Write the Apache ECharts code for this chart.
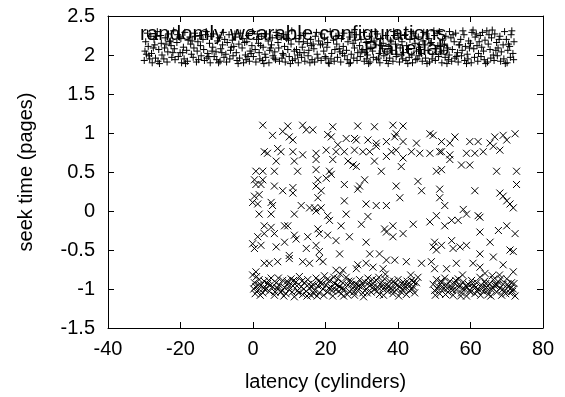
<!DOCTYPE html>
<html><head><meta charset="utf-8">
<script src="https://cdn.jsdelivr.net/npm/echarts@6/dist/echarts.min.js"></script>
<style>html,body{margin:0;padding:0;background:#fff}#c{width:565px;height:397px}</style>
</head><body><div id="c"></div>
<script>
var xTitle = 'latency (cylinders)';
var yTitle = 'seek time (pages)';
var seriesNames = ['randomly wearable configurations', 'Planetlab'];
var xTicks = [-40, -20, 0, 20, 40, 60, 80];
var yTicks = [-1.5, -1, -0.5, 0, 0.5, 1, 1.5, 2, 2.5];

var wearable = [
[-30.0,1.93],[-29.6,2.17],[-29.8,2.05],[-29.1,2.28],[-28.7,1.99],[-28.9,2.11],[-28.2,2.24],[-27.8,1.90],[-28.0,2.02],
[-27.3,2.20],[-26.9,1.96],[-27.1,2.13],[-26.4,2.30],[-26.0,2.07],[-26.2,1.92],[-25.5,2.25],[-25.1,2.00],[-25.3,2.15],
[-24.6,1.95],[-24.2,2.22],[-24.4,2.09],[-23.7,1.91],[-23.3,2.27],[-23.5,2.04],[-22.8,2.18],[-22.4,1.97],[-22.6,2.12],
[-21.9,2.31],[-21.5,1.94],[-21.7,2.08],[-21.0,2.16],[-20.6,1.98],[-20.8,2.26],[-20.1,2.03],[-19.7,1.90],[-19.9,2.21],
[-19.2,2.10],[-18.8,2.29],[-19.0,1.95],[-18.3,2.06],[-17.9,2.19],[-18.1,1.92],[-17.4,2.23],[-17.0,2.01],[-17.2,2.14],
[-16.5,1.97],[-16.1,2.28],[-16.3,2.09],[-15.6,1.91],[-15.2,2.17],[-15.4,2.05],[-14.7,2.25],[-14.3,1.99],[-14.5,2.12],
[-13.8,2.20],[-13.4,1.93],[-13.6,2.07],[-12.9,2.30],[-12.5,2.02],[-12.7,1.96],[-12.0,2.15],[-11.6,2.24],[-11.8,1.90],
[-11.1,2.10],[-10.7,1.98],[-10.9,2.27],[-10.2,2.04],[-9.8,2.18],[-10.0,1.94],[-9.3,2.22],[-8.9,2.08],[-9.1,1.92],
[-8.4,2.13],[-8.0,1.97],[-8.2,2.29],[-7.5,2.01],[-7.1,2.16],[-7.3,1.91],[-6.6,2.26],[-6.2,2.06],[-6.4,1.95],
[-5.7,2.19],[-5.3,2.11],[-5.5,1.99],[-4.8,2.23],[-4.4,1.93],[-4.6,2.03],[-3.9,2.14],[-3.5,2.28],[-3.7,1.96],
[-3.0,2.09],[-2.6,1.90],[-2.8,2.21],[-2.1,2.00],[-1.7,2.17],[-1.9,1.94],[-1.2,2.25],[-0.8,2.05],[-1.0,1.92],
[-0.3,2.12],[0.1,1.98],[-0.1,2.30],[0.6,2.07],[1.0,2.20],[0.8,1.91],[1.5,2.15],[1.9,1.95],[1.7,2.03],
[2.4,2.24],[2.8,2.10],[2.6,1.93],[3.3,2.01],[3.7,2.27],[3.5,1.97],[4.2,2.18],[4.6,2.06],[4.4,1.90],
[5.1,2.13],[5.5,1.99],[5.3,2.22],[6.0,2.04],[6.4,2.29],[6.2,1.94],[6.9,2.16],[7.3,1.92],[7.1,2.09],
[7.8,2.23],[8.2,2.02],[8.0,1.96],[8.7,2.11],[9.1,2.26],[8.9,1.91],[9.6,2.07],[10.0,1.98],[9.8,2.19],
[10.5,2.14],[10.9,1.93],[10.7,2.31],[11.4,2.05],[11.8,2.21],[11.6,1.95],[12.3,2.00],[12.7,2.17],[12.5,1.90],
[13.2,2.25],[13.6,2.10],[13.4,1.97],[14.1,2.03],[14.5,2.28],[14.3,1.92],[15.0,2.15],[15.4,2.06],[15.2,1.99],
[15.9,2.20],[16.3,1.94],[16.1,2.12],[16.8,2.08],[17.2,2.24],[17.0,1.91],[17.7,2.01],[18.1,2.18],[17.9,1.96],
[18.6,2.13],[19.0,2.27],[18.8,1.93],[19.5,2.05],[19.9,1.98],[19.7,2.22],[20.4,2.10],[20.8,1.90],[20.6,2.16],
[21.3,2.30],[21.7,2.02],[21.5,1.95],[22.2,2.19],[22.6,2.07],[22.4,1.92],[23.1,2.14],[23.5,2.25],[23.3,1.97],
[24.0,2.04],[24.4,2.21],[24.2,1.91],[24.9,2.11],[25.3,1.99],[25.1,2.28],[25.8,2.06],[26.2,2.17],[26.0,1.94],
[26.7,2.23],[27.1,2.01],[26.9,1.90],[27.6,2.15],[28.0,2.09],[27.8,1.96],[28.5,2.26],[28.9,2.03],[28.7,1.93],
[29.4,2.12],[29.8,2.20],[29.6,1.98],[30.3,2.07],[30.7,1.92],[30.5,2.29],[31.2,2.16],[31.6,2.00],[31.4,1.95],
[32.1,2.24],[32.5,2.10],[32.3,1.91],[33.0,2.05],[33.4,2.18],[33.2,1.97],[33.9,2.13],[34.3,2.27],[34.1,1.94],
[34.8,2.02],[35.2,2.21],[35.0,1.90],[35.7,2.08],[36.1,1.99],[35.9,2.15],[36.6,2.25],[37.0,2.04],[36.8,1.93],
[37.5,2.11],[37.9,2.19],[37.7,1.96],[38.4,2.06],[38.8,2.30],[38.6,1.92],[39.3,2.14],[39.7,2.01],[39.5,1.98],
[40.2,2.22],[40.6,2.09],[40.4,1.91],[41.1,2.17],[41.5,2.03],[41.3,1.95],[42.0,2.26],[42.4,2.12],[42.2,1.93],
[42.9,2.07],[43.3,2.20],[43.1,1.97],[43.8,2.00],[44.2,2.28],[44.0,1.90],[44.7,2.15],[45.1,2.05],[44.9,1.94],
[45.6,2.23],[46.0,2.10],[45.8,1.99],[46.5,2.02],[46.9,2.18],[46.7,1.92],[47.4,2.13],[47.8,2.27],[47.6,1.96],
[48.3,2.06],[48.7,1.91],[48.5,2.21],[49.2,2.16],[49.6,2.01],[49.4,1.95],[50.1,2.25],[50.5,2.08],[50.3,1.93],
[51.0,2.12],[51.4,2.30],[51.2,1.98],[51.9,2.04],[52.3,2.19],[52.1,1.90],[52.8,2.14],[53.2,2.24],[53.0,1.97],
[53.7,2.09],[54.1,2.00],[53.9,1.94],[54.6,2.22],[55.0,2.07],[54.8,1.92],[55.5,2.17],[55.9,2.28],[55.7,1.96],
[56.4,2.03],[56.8,2.13],[56.6,1.91],[57.3,2.20],[57.7,2.06],[57.5,1.99],[58.2,2.26],[58.6,2.11],[58.4,1.93],
[59.1,2.01],[59.5,2.18],[59.3,1.95],[60.0,2.15],[60.4,2.29],[60.2,1.90],[60.9,2.08],[61.3,2.23],[61.1,1.97],
[61.8,2.12],[62.2,2.02],[62.0,1.92],[62.7,2.25],[63.1,2.10],[62.9,1.98],[63.6,2.05],[64.0,2.19],[63.8,1.94],
[64.5,2.31],[64.9,2.14],[64.7,1.91],[65.4,2.07],[65.8,2.22],[65.6,1.96],[66.3,2.00],[66.7,2.27],[66.5,1.93],
[67.2,2.16],[67.6,2.09],[67.4,1.99],[68.1,2.24],[68.5,2.04],[68.3,1.92],[69.0,2.13],[69.4,2.30],[69.2,1.95],
[69.9,2.20],[70.3,2.06],[70.1,1.90],[70.8,2.11],[71.2,2.26],[71.0,1.97],[71.7,2.02],[72.0,2.17],[71.9,1.94],
[-29.4,2.01],[-27.5,2.09],[-25.8,1.89],[-24.0,2.14],[-22.1,2.03],[-20.3,2.23],[-18.6,1.89],[-16.8,2.18],[-15.0,1.94],
[-13.1,2.26],[-11.3,2.05],[-9.5,1.90],[-7.8,2.20],[-6.0,2.10],[-4.1,1.89],[-2.3,2.16],[-0.5,2.02],[1.2,2.27],
[3.0,1.89],[4.9,2.09],[6.7,2.25],[8.4,2.00],[10.3,1.89],[12.0,2.07],[13.9,2.17],[15.7,1.90],[17.5,2.29],
[19.2,2.14],[21.0,1.89],[22.9,2.24],[24.7,2.02],[26.5,1.89],[28.2,2.19],[30.0,2.05],[31.9,1.89],[33.7,2.30],
[35.4,2.12],[37.3,1.89],[39.0,2.25],[40.9,2.00],[42.7,1.89],[44.5,2.21],[46.2,2.07],[48.0,1.89],[49.9,2.31],
[51.7,2.11],[53.5,1.89],[55.2,2.26],[57.0,2.13],[58.9,1.89],[60.7,2.32],[62.4,2.17],[64.2,1.89],[66.0,2.32],
[67.9,2.20],[69.6,1.89],[71.4,2.31],[-28.5,1.95],[-26.6,2.24],[-23.0,2.17],[-19.4,2.03],[-15.9,2.24],[-12.2,1.98],
[-8.6,2.03],[-5.0,2.27],[-1.4,1.98],[2.1,2.12],[5.8,1.96],[9.3,2.21],[12.9,2.03],[16.6,2.14],[20.1,1.96],
[23.8,2.08],[27.3,2.29],[30.9,2.03],[34.6,1.96],[38.1,2.17],[41.8,2.25],[45.3,1.95],[48.9,2.15],[52.6,2.06],
[56.1,1.98],[59.7,2.09],[63.3,2.29],[67.0,2.06],[70.5,2.14],[65.1,2.26],[61.6,2.27],[57.9,2.31],[54.2,2.30],
[50.8,2.28],[47.1,2.29],[43.6,2.30],[39.9,2.28]
];

var planetlab = [
[2.7,1.10],[9.6,1.09],[13.7,1.10],[22.0,1.08],[28.9,1.09],[33.5,1.08],[38.6,1.10],[41.4,1.09],
[5.4,0.97],[8.2,1.02],[10.0,0.95],[11.0,0.91],[14.7,1.04],[16.5,1.04],[20.6,0.98],[21.6,0.95],[25.7,0.93],[28.0,0.93],[28.5,0.91],[31.7,0.91],[34.0,0.87],[36.8,0.89],[39.1,0.95],[39.5,0.99],[41.4,0.89],[45.1,0.87],[48.8,0.99],[49.7,0.97],[52.0,0.89],[54.3,0.87],[55.7,0.95],[59.8,0.89],[62.1,0.89],[65.4,0.87],[66.7,0.95],[69.0,0.97],[70.0,0.91],[72.3,0.99],
[3.1,0.76],[4.0,0.74],[6.8,0.80],[7.7,0.76],[11.0,0.76],[13.7,0.72],[17.4,0.74],[20.2,0.78],[22.9,0.76],[23.4,0.85],[25.2,0.76],[28.0,0.78],[30.3,0.76],[32.2,0.76],[34.0,0.83],[36.8,0.70],[38.2,0.76],[39.5,0.78],[41.4,0.68],[43.7,0.76],[46.0,0.74],[48.8,0.74],[51.5,0.76],[52.0,0.76],[54.3,0.72],[58.9,0.74],[61.2,0.74],[63.5,0.76],[66.3,0.83],[68.1,0.78],
[6.4,0.64],[11.4,0.64],[17.4,0.66],[22.0,0.66],[26.2,0.64],[27.6,0.59],[28.5,0.57],[33.5,0.64],[40.9,0.57],[54.3,0.66],[57.5,0.59],[59.8,0.59],
[0.8,0.51],[2.7,0.51],[5.9,0.51],[12.3,0.51],[17.4,0.53],[21.1,0.51],[35.4,0.51],[50.6,0.51],[52.0,0.53],[67.2,0.51],[72.7,0.51],[0.4,0.40],[2.7,0.40],[17.9,0.40],[20.2,0.42],[21.6,0.47],[30.8,0.40],[45.5,0.38],
[0.8,0.34],[2.2,0.34],[5.9,0.32],[8.2,0.26],[11.0,0.30],[11.0,0.23],[17.4,0.32],[18.8,0.26],[25.2,0.34],[29.4,0.32],[28.9,0.28],[39.5,0.32],[46.5,0.26],[51.5,0.28],[61.2,0.26],[68.1,0.23],[69.0,0.19],[72.7,0.34],[0.4,0.19],[1.7,0.21],[17.9,0.17],[40.5,0.17],[51.5,0.17],
[-0.1,0.11],[1.3,0.09],[5.0,0.11],[5.4,0.07],[13.3,0.07],[15.6,0.04],[17.0,0.04],[18.8,0.04],[25.2,0.13],[31.2,0.09],[34.0,0.07],[36.8,0.07],[52.9,0.07],[70.0,0.13],[70.9,0.09],[71.8,0.04],
[1.7,-0.04],[3.1,-0.19],[5.0,-0.04],[11.4,-0.04],[17.4,0.0],[20.6,-0.06],[21.1,-0.12],[25.7,-0.04],[31.7,-0.07],[44.2,-0.17],[48.8,-0.14],[50.6,-0.06],[52.9,-0.19],[54.8,-0.12],[56.6,-0.12],[58.0,0.02],[58.9,-0.04],[62.1,-0.06],[62.6,-0.08],[24.3,-0.19],[29.9,-0.17],
[1.3,-0.33],[3.1,-0.29],[5.0,-0.21],[5.9,-0.29],[8.7,-0.19],[9.6,-0.19],[8.7,-0.40],[11.4,-0.31],[11.9,-0.36],[15.1,-0.33],[17.9,-0.23],[18.3,-0.29],[20.6,-0.31],[22.9,-0.38],[26.6,-0.33],[31.2,-0.40],[36.3,-0.23],[36.8,-0.27],[38.6,-0.19],[38.6,-0.33],[41.4,-0.29],[50.1,-0.40],[54.8,-0.38],[62.6,-0.27],[65.4,-0.40],[67.7,-0.25],[70.0,-0.19],[72.3,-0.29],
[-0.1,-0.42],[0.4,-0.48],[2.2,-0.44],[6.4,-0.46],[10.0,-0.57],[14.7,-0.48],[17.4,-0.44],[18.3,-0.52],[23.9,-0.55],[32.2,-0.55],[34.9,-0.55],[49.7,-0.46],[50.6,-0.50],[52.0,-0.44],[55.2,-0.48],[57.1,-0.46],[58.9,-0.44],[62.6,-0.55],[66.3,-0.59],[70.9,-0.50],[71.8,-0.52],
[3.1,-0.67],[4.5,-0.67],[6.8,-0.65],[10.0,-0.61],[13.7,-0.65],[15.6,-0.67],[18.3,-0.61],[19.3,-0.65],[22.9,-0.76],[24.8,-0.76],[28.9,-0.69],[31.2,-0.67],[35.9,-0.74],[36.8,-0.63],[39.1,-0.63],[42.3,-0.65],[46.5,-0.67],[49.2,-0.65],[53.4,-0.74],[56.1,-0.67],[60.7,-0.67],[62.6,-0.72],[69.0,-0.69],[71.8,-0.78],[50.1,-0.74],[33.1,-0.72],[28.5,-0.74],[0.8,-0.78],[-0.1,-0.82],
[0.4,-0.92],[0.8,-0.97],[1.3,-1.02],[1.7,-0.88],[2.2,-0.95],[2.7,-1.05],[3.1,-0.90],[3.6,-0.99],[4.0,-0.93],[4.5,-1.03],[5.0,-0.86],[5.4,-0.97],[5.9,-1.08],[6.4,-0.92],[6.8,-1.00],[7.3,-0.95],[7.7,-1.04],[8.2,-0.89],[8.7,-0.98],[9.1,-1.06],[9.6,-0.93],[10.0,-1.01],[10.5,-0.87],[11.0,-0.96],[11.4,-1.10],[11.9,-0.91],[12.3,-1.02],[12.8,-0.84],[13.3,-0.97],[13.7,-1.07],[14.2,-0.92],[14.7,-1.03],[15.1,-0.88],[15.6,-0.99],[16.0,-1.08],[16.5,-0.94],[17.0,-1.02],[17.4,-0.86],[17.9,-0.96],[18.3,-1.05],[18.8,-0.91],[19.3,-1.00],[19.7,-0.83],[20.2,-0.95],[20.6,-1.04],[21.1,-0.89],[21.6,-0.98],[22.0,-1.09],[22.5,-0.93],[22.9,-1.01],[23.4,-0.87],[23.9,-0.97],[24.3,-1.06],[24.8,-0.92],[25.2,-1.00],[25.7,-0.85],[26.2,-0.95],[26.6,-1.03],[27.1,-0.90],[27.6,-0.99],[28.0,-1.08],[28.5,-0.94],[28.9,-1.02],[29.4,-0.88],[29.9,-0.97],[30.3,-1.05],[30.8,-0.91],[31.2,-1.00],[31.7,-0.86],[32.2,-0.96],[32.6,-1.04],[33.1,-0.93],[33.5,-1.01],[34.0,-0.89],[34.5,-0.98],[34.9,-1.07],[35.4,-0.92],[35.9,-1.00],[36.3,-0.87],[36.8,-0.95],[37.2,-1.03],[37.7,-0.90],[38.2,-0.99],[38.6,-1.06],[39.1,-0.93],[39.5,-1.01],[40.0,-0.88],[40.5,-0.97],[40.9,-1.04],[41.4,-0.91],[41.8,-0.99],[42.3,-1.07],[42.8,-0.94],[43.2,-1.02],[43.7,-0.89],[44.2,-0.97],[44.6,-1.05],[45.1,-0.92],[45.5,-0.85],
[49.7,-0.94],[50.1,-1.02],[50.6,-0.88],[51.1,-0.97],[51.5,-1.06],[52.0,-0.92],[52.5,-1.00],[52.9,-0.86],[53.4,-0.95],[53.8,-1.04],[54.3,-0.90],[54.8,-0.99],[55.2,-1.08],[55.7,-0.93],[56.1,-1.01],[56.6,-0.87],[57.1,-0.96],[57.5,-1.05],[58.0,-0.91],[58.4,-1.00],[58.9,-1.09],[59.4,-0.94],[59.8,-1.02],[60.3,-0.89],[60.7,-0.97],[61.2,-1.06],[61.7,-0.92],[62.1,-1.00],[62.6,-0.85],[63.0,-0.95],[63.5,-1.03],[63.9,-0.90],[64.4,-0.98],[64.9,-1.07],[65.3,-0.93],[65.8,-1.01],[66.3,-0.88],[66.7,-0.96],[67.2,-1.04],[67.7,-0.91],[68.1,-0.99],[68.6,-1.08],[69.0,-0.94],[69.5,-1.02],[70.0,-0.87],[70.4,-0.97],[70.9,-1.05],[71.3,-0.92],[71.8,-1.00],[72.3,-1.09],
[0.6,-1.06],[1.0,-0.84],[2.0,-1.08],[3.4,-1.01],[4.8,-0.95],[6.1,-1.04],[7.0,-0.86],[8.5,-1.09],[9.9,-0.97],[11.2,-0.89],[12.6,-1.05],[14.0,-1.00],[15.4,-0.94],[16.8,-1.06],[18.1,-0.90],[19.5,-1.08],[20.9,-0.99],[22.3,-0.85],[23.7,-1.03],[25.0,-1.09],[26.4,-0.90],[27.8,-1.04],[29.2,-0.96],[30.5,-1.10],[31.9,-0.92],[33.3,-0.97],[34.7,-0.85],[36.0,-1.08],[37.4,-0.96],[38.8,-0.90],[40.2,-1.09],[41.6,-0.95],[43.0,-0.97],[44.4,-0.91],[50.3,-1.08],[51.8,-0.90],[53.1,-1.07],[54.5,-0.96],[55.9,-0.89],[57.3,-1.09],[58.7,-0.96],[60.0,-1.04],[61.4,-0.98],[62.8,-1.08],[64.2,-0.93],[65.6,-1.09],[66.9,-0.94],[68.3,-0.87],[69.7,-1.06],[71.1,-0.99],[72.0,-0.93],[24.1,-0.81],[36.5,-0.81],[43.5,-0.82],[57.8,-0.82],[64.0,-0.80],[66.0,-0.83],[68.0,-0.82],
[0.2,-1.00],[1.5,-0.95],[2.9,-0.99],[4.3,-0.89],[6.6,-0.98],[8.0,-1.02],[9.4,-0.90],[10.8,-1.04],[12.1,-0.96],[13.5,-0.90],[14.9,-1.09],[16.3,-0.97],[17.7,-1.09],[19.0,-0.94],[20.4,-0.88],[21.8,-1.02],[23.2,-0.95],[24.6,-0.99],[26.0,-1.07],[27.3,-0.94],[28.7,-0.98],[30.1,-0.93],[31.5,-1.05],[32.9,-0.88],[34.2,-1.03],[35.6,-0.96],[37.0,-0.99],[38.4,-1.02],[39.8,-0.95],[41.2,-1.00],[42.5,-0.90],[44.0,-1.00],[50.9,-1.00],[52.3,-0.97],[53.6,-0.99],[55.0,-1.02],[56.4,-0.96],[57.8,-1.00],[59.1,-0.98],[60.5,-0.93],[61.9,-1.03],[63.3,-0.99],[64.6,-1.02],[66.0,-0.98],[67.4,-0.95],[68.8,-1.01],[70.2,-0.94],[71.6,-1.03]
];

var FONT = 'Liberation Sans, Arial, Helvetica, sans-serif';
var FS = 20;
var chart = echarts.init(document.getElementById('c'), null, {renderer: 'canvas'});
function axisBase(extra) {
  var a = {
    type: 'value',
    axisLine: {show: true, onZero: false, lineStyle: {color: '#000', width: 1}},
    axisTick: {show: true, inside: true, length: 6, lineStyle: {color: '#000'}},
    splitLine: {show: false},
    axisLabel: {color: '#000', fontSize: FS, fontFamily: FONT}
  };
  for (var k in extra) a[k] = extra[k];
  return a;
}
var xMin = xTicks[0], xMax = xTicks[xTicks.length - 1], xStep = xTicks[1] - xTicks[0];
var yMin = yTicks[0], yMax = yTicks[yTicks.length - 1], yStep = yTicks[1] - yTicks[0];
var plusSym = 'path://M0,4L8,4M4,0L4,8';
var crossSym = 'path://M0,0L8,8M8,0L0,8';
chart.setOption({
  animation: false,
  backgroundColor: '#fff',
  grid: {left: 108, right: 22, top: 16, bottom: 65, containLabel: false},
  xAxis: [
    axisBase({min: xMin, max: xMax, interval: xStep, position: 'bottom',
      name: xTitle, nameLocation: 'middle', nameGap: 44,
      nameTextStyle: {color: '#000', fontSize: FS, fontFamily: FONT},
      axisLabel: {color: '#000', fontSize: FS, fontFamily: FONT, margin: 11}}),
    axisBase({min: xMin, max: xMax, interval: xStep, position: 'top', axisLabel: {show: false}})
  ],
  yAxis: [
    axisBase({min: yMin, max: yMax, interval: yStep, position: 'left',
      name: yTitle, nameLocation: 'middle', nameGap: 72,
      nameTextStyle: {color: '#000', fontSize: FS, fontFamily: FONT},
      axisLabel: {color: '#000', fontSize: FS, fontFamily: FONT, margin: 13}}),
    axisBase({min: yMin, max: yMax, interval: yStep, position: 'right', axisLabel: {show: false}})
  ],
  series: [
    {name: seriesNames[0], type: 'scatter', data: wearable, symbol: plusSym, symbolSize: 7,
      itemStyle: {color: 'rgba(0,0,0,0)', borderColor: '#000', borderWidth: 1, opacity: 1}},
    {name: seriesNames[1], type: 'scatter', data: planetlab, symbol: crossSym, symbolSize: 7,
      itemStyle: {color: 'rgba(0,0,0,0)', borderColor: '#000', borderWidth: 1, opacity: 1}}
  ],
  graphic: [
    {type: 'text', left: 140, top: 24, z: 100, style: {text: seriesNames[0], fill: '#000', font: '20.5px ' + FONT}},
    {type: 'text', left: 364, top: 39, z: 100, style: {text: seriesNames[1], fill: '#000', font: '20.5px ' + FONT}}
  ]
});
</script>
</body></html>
